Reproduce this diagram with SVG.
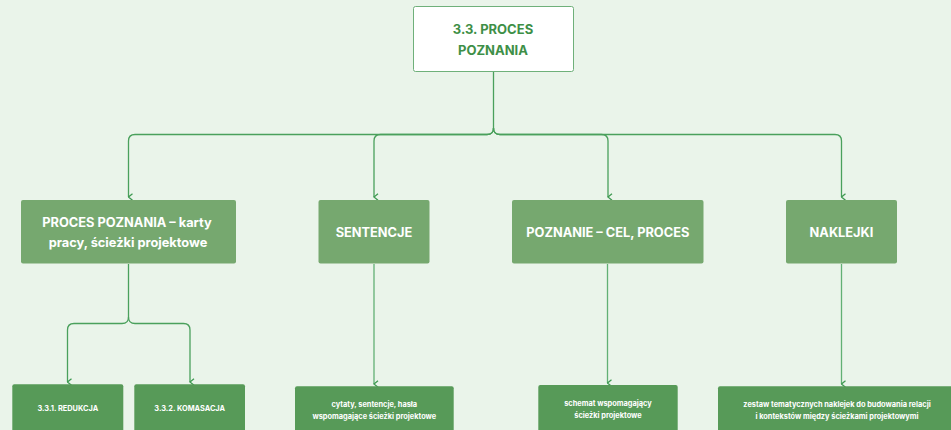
<svg xmlns="http://www.w3.org/2000/svg" width="951" height="430" viewBox="0 0 951 430">
<style>
.bg{fill:#eaf4ea}
.root{fill:#ffffff;stroke:#6fb07a;stroke-width:1}
.l1{fill:#76a86f}
.l2{fill:#579a58}
.t0{font-family:Inter,"Liberation Sans",sans-serif;font-weight:700;font-size:13px;fill:#3e8f47;text-anchor:middle}
.t1{font-family:Inter,"Liberation Sans",sans-serif;font-weight:700;font-size:12.8px;fill:#ffffff;text-anchor:middle}
.t2{font-family:Inter,"Liberation Sans",sans-serif;font-weight:700;font-size:7.4px;fill:#ffffff;text-anchor:middle}
.c{fill:none;stroke:#4aa05c;stroke-width:1.3}
.cl{fill:none;stroke:#62b074;stroke-width:1.3}
</style>
<defs>
<marker id="ah" viewBox="0 0 10 10" refX="5" refY="9" markerWidth="8" markerHeight="8" markerUnits="userSpaceOnUse" orient="auto-start-reverse">
<path d="M1,4 L5,9 L9,4" fill="none" stroke="#3f9a52" stroke-width="1.6"/>
</marker>
</defs>
<rect class="bg" x="0" y="0" width="951" height="430"/>
<g id="connectors">
<path class="c" d="M493.5,72 V128 Q493.5,134.5 487,134.5 H135 Q128.5,134.5 128.5,141 V197" marker-end="url(#ah)"/>
<path class="c" d="M493.5,128 Q493.5,134.5 487,134.5 H380.5 Q374,134.5 374,141 V197" marker-end="url(#ah)"/>
<path class="c" d="M493.5,128 Q493.5,134.5 500,134.5 H601.5 Q608,134.5 608,141 V197" marker-end="url(#ah)"/>
<path class="c" d="M493.5,128 Q493.5,134.5 500,134.5 H835 Q841.5,134.5 841.5,141 V197" marker-end="url(#ah)"/>
<path class="c" d="M128.5,264 V317 Q128.5,323.5 122,323.5 H74 Q67.5,323.5 67.5,330 V382" marker-end="url(#ah)"/>
<path class="c" d="M128.5,317 Q128.5,323.5 135,323.5 H183.5 Q190,323.5 190,330 V382" marker-end="url(#ah)"/>
<path class="cl" d="M374,264 V384" marker-end="url(#ah)"/>
<path class="cl" d="M607.5,264 V383" marker-end="url(#ah)"/>
<path class="cl" d="M841.5,264 V384" marker-end="url(#ah)"/>
</g>
<g id="root">
<rect class="root" x="413.5" y="6.5" width="160" height="65" rx="2"/>
<text class="t0" x="493" y="34">3.3. PROCES</text>
<text class="t0" x="493" y="54.5">POZNANIA</text>
</g>
<g id="n-proces">
<rect class="l1" x="21" y="200" width="215" height="63.5" rx="2"/>
<text class="t1" x="127" y="227">PROCES POZNANIA – karty</text>
<text class="t1" x="128" y="247">pracy, ścieżki projektowe</text>
</g>
<g id="n-sentencje">
<rect class="l1" x="318.5" y="200" width="111" height="63.5" rx="2"/>
<text class="t1" x="374" y="237">SENTENCJE</text>
</g>
<g id="n-poznanie">
<rect class="l1" x="512" y="200" width="191.5" height="63.5" rx="2"/>
<text class="t1" x="607.8" y="237">POZNANIE – CEL, PROCES</text>
</g>
<g id="n-naklejki">
<rect class="l1" x="786" y="200" width="111" height="63.5" rx="2"/>
<text class="t1" x="841.5" y="237">NAKLEJKI</text>
</g>
<g id="n-redukcja">
<rect class="l2" x="12.3" y="384.3" width="111" height="55" rx="2"/>
<text class="t2" x="67.8" y="411">3.3.1. REDUKCJA</text>
</g>
<g id="n-komasacja">
<rect class="l2" x="134.3" y="384.3" width="110.7" height="55" rx="2"/>
<text class="t2" x="189.7" y="411">3.3.2. KOMASACJA</text>
</g>
<g id="n-cytaty">
<rect class="l2" x="295" y="386.3" width="158.7" height="55" rx="2"/>
<text class="t2" x="374.3" y="407">cytaty, sentencje, hasła</text>
<text class="t2" x="374.3" y="419">wspomagające ścieżki projektowe</text>
</g>
<g id="n-schemat">
<rect class="l2" x="538.3" y="385" width="139.4" height="55" rx="2"/>
<text class="t2" x="608" y="406">schemat wspomagający</text>
<text class="t2" x="608" y="418">ścieżki projektowe</text>
</g>
<g id="n-zestaw">
<rect class="l2" x="718" y="386.3" width="245" height="55" rx="2"/>
<text class="t2" x="837" y="407">zestaw tematycznych naklejek do budowania relacji</text>
<text class="t2" x="837" y="419">i kontekstów między ścieżkami projektowymi</text>
</g>
</svg>
